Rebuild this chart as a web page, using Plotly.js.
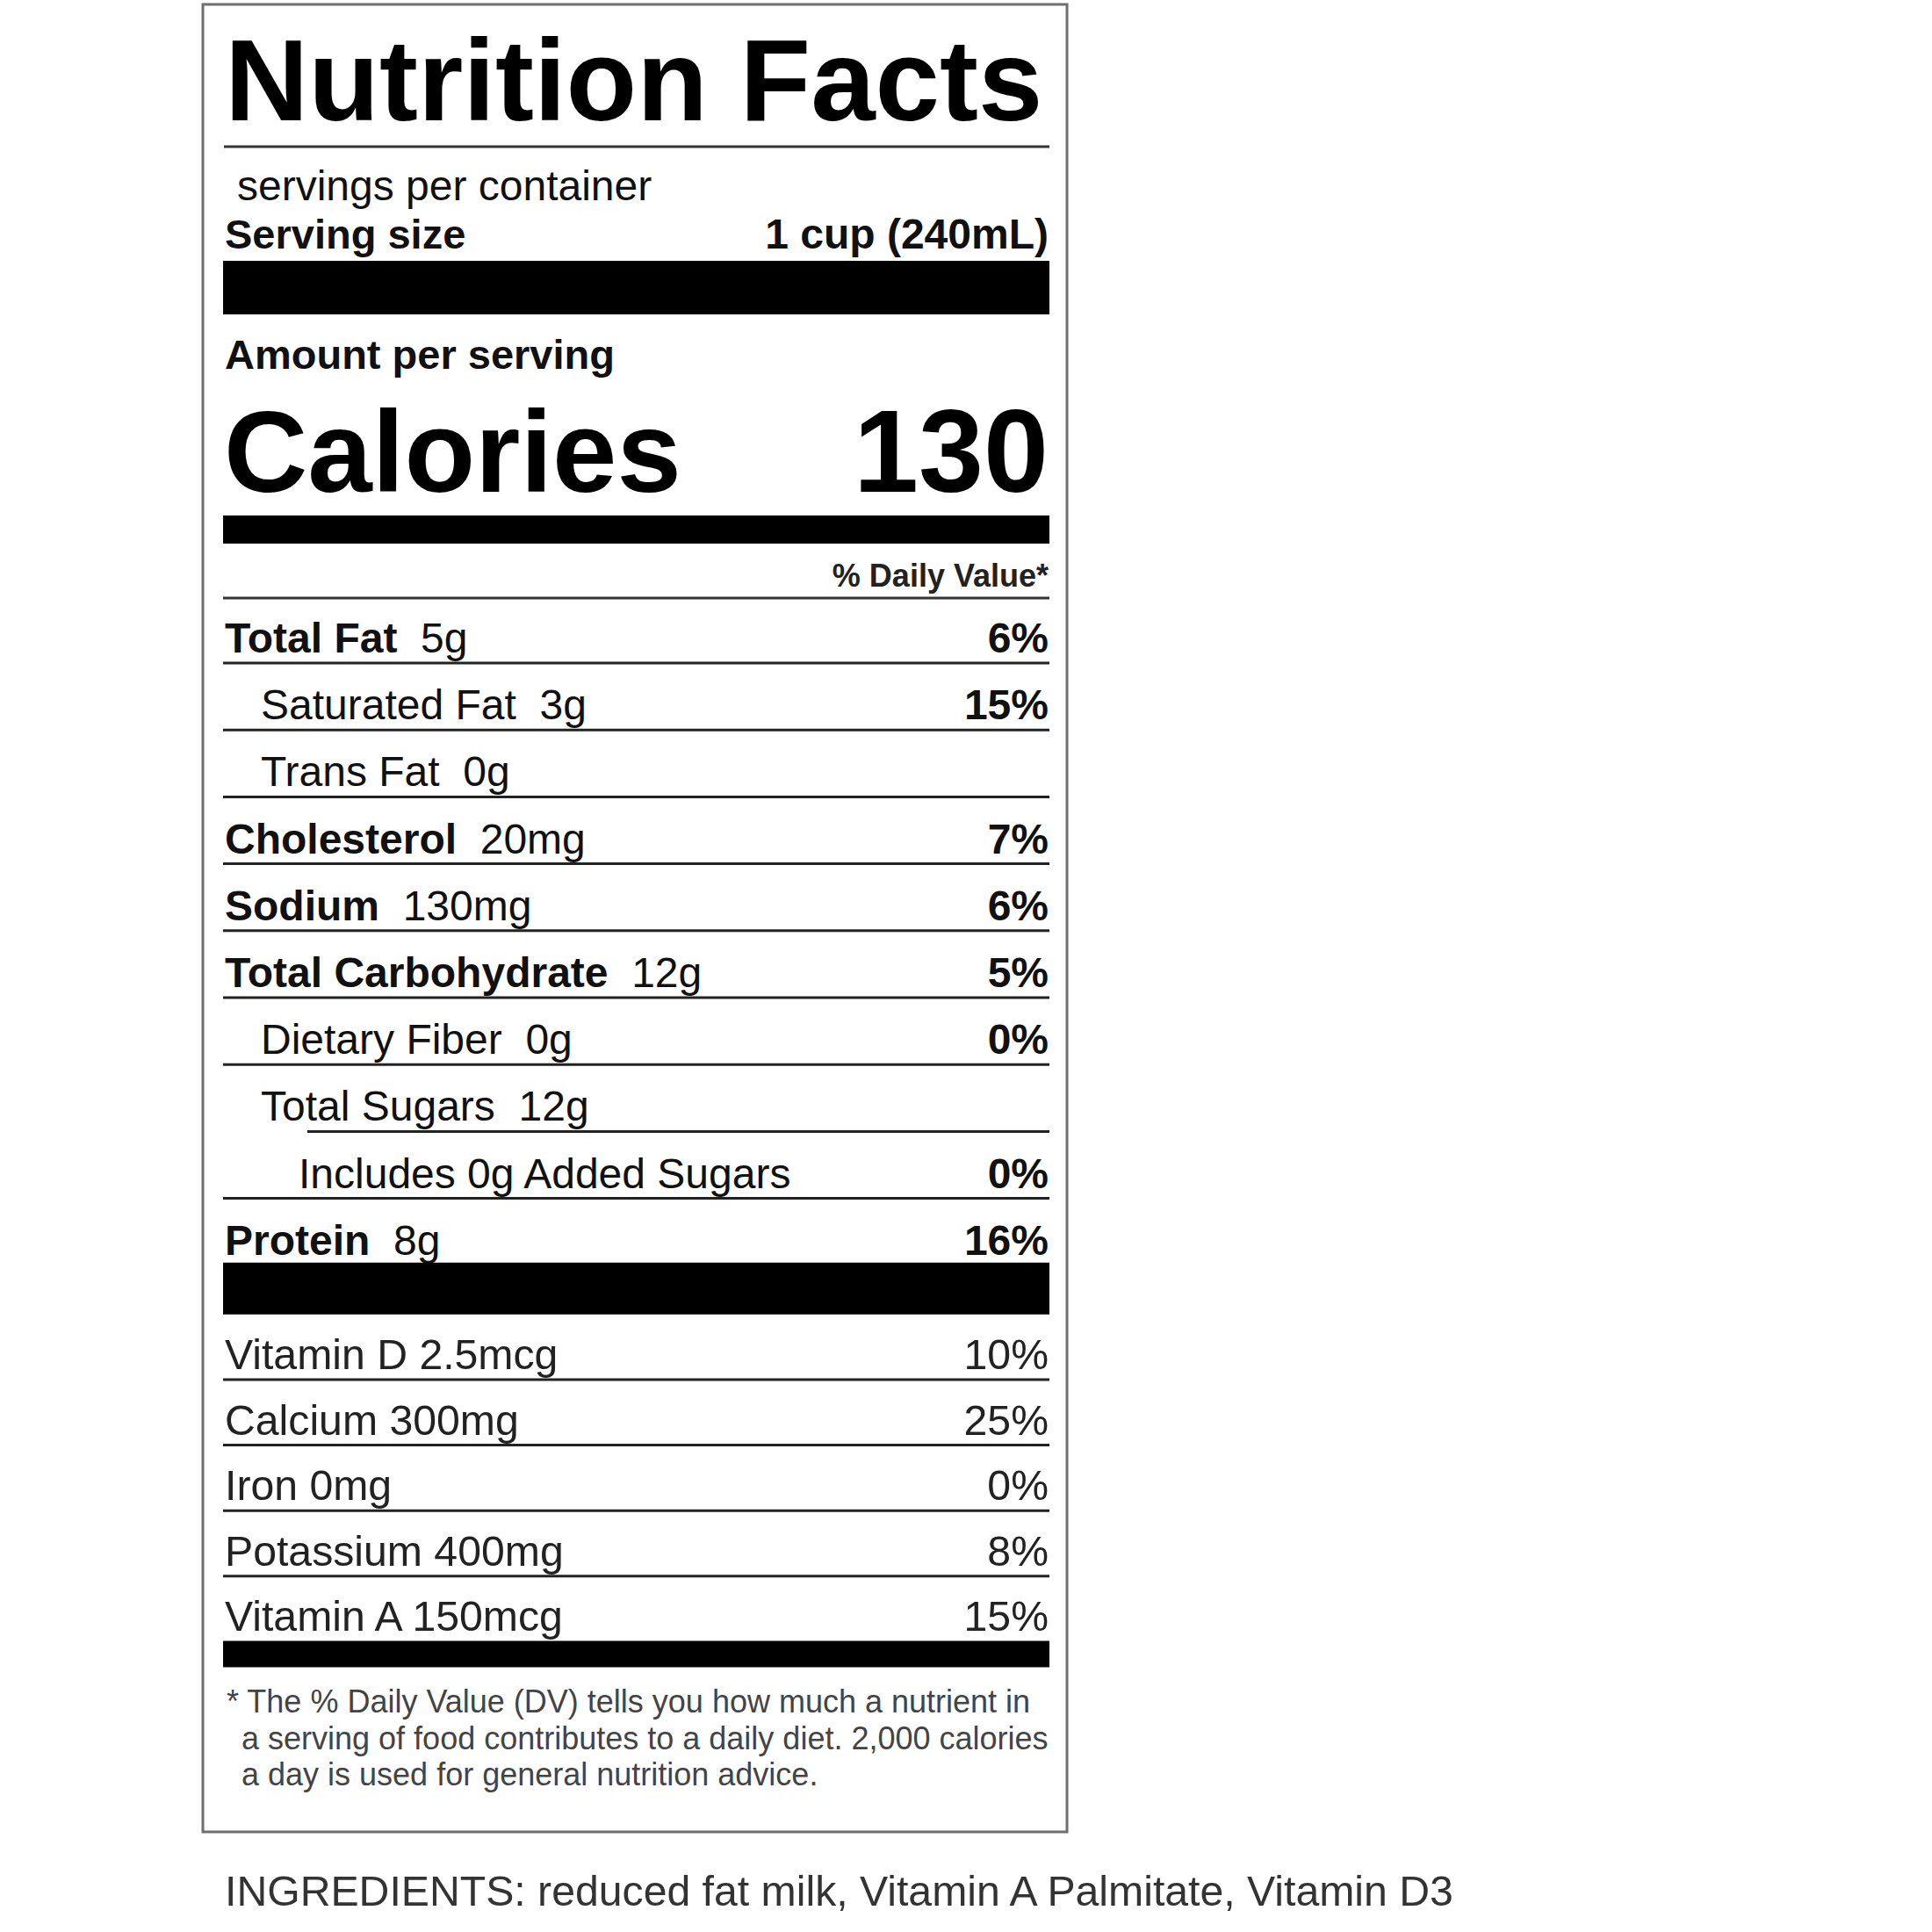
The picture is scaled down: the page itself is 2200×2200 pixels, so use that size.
<!DOCTYPE html>
<html>
<head>
<meta charset="utf-8">
<script src="https://cdn.plot.ly/plotly-3.0.1.min.js"></script>
<style>html,body{margin:0;padding:0;background:#fff;}</style>
</head>
<body>
<div id="chart" style="width:2200px;height:2200px;"></div>
<script>
// ---------- data ----------
const labelTitle = 'Nutrition Facts';
const servingsPerContainer = 'servings per container';
const servingSizeLabel = 'Serving size';
const servingSize = '1 cup (240mL)';
const amountLabel = 'Amount per serving';
const caloriesLabel = 'Calories';
const calories = 130;
const dvHeader = '% Daily Value*';

const nutrients = ['Total Fat', 'Saturated Fat', 'Trans Fat', 'Cholesterol', 'Sodium',
                   'Total Carbohydrate', 'Dietary Fiber', 'Total Sugars', 'Includes 0g Added Sugars', 'Protein'];
const nutrientAmounts = ['5g', '3g', '0g', '20mg', '130mg', '12g', '0g', '12g', '', '8g'];
const nutrientDV = [6, 15, null, 7, 6, 5, 0, null, 0, 16];
const nutrientLevel = [0, 1, 1, 0, 0, 0, 1, 1, 2, 0];

const vitamins = ['Vitamin D', 'Calcium', 'Iron', 'Potassium', 'Vitamin A'];
const vitaminAmounts = ['2.5mcg', '300mg', '0mg', '400mg', '150mcg'];
const vitaminDV = [10, 25, 0, 8, 15];

const footnoteLines = [
  '* The % Daily Value (DV) tells you how much a nutrient in',
  'a serving of food contributes to a daily diet. 2,000 calories',
  'a day is used for general nutrition advice.'
];
const ingredients = 'INGREDIENTS: reduced fat milk, Vitamin A Palmitate, Vitamin D3';

// ---------- layout helpers (positions in pixel-like axis units) ----------
const FONT = 'Liberation Sans, Arial, Helvetica, sans-serif';
const XL = 256, XR = 1194, RULE_L = 254, RULE_R = 1195;
const rowTop = 743, rowStep = 76.2;
const vitTop = 1559, vitStep = 74.6;
const noteTop = 1950, noteStep = 41.5;
const indentX = [0, 41, 84];

const left = {x: [], y: [], text: [], size: [], color: []};
const right = {x: [], y: [], text: [], size: [], color: []};
function put(target, x, baseline, text, size, color) {
  target.x.push(x);
  target.y.push(baseline - 0.25 * size);
  target.text.push(text);
  target.size.push(size);
  target.color.push(color);
}
const NB = '\u00a0';

put(left, 256, 137, '<b>' + labelTitle + '</b>', 132, '#000');
put(left, 270, 228, servingsPerContainer, 48, '#111');
put(left, XL, 283, '<b>' + servingSizeLabel + '</b>', 47, '#111');
put(right, XR, 283, '<b>' + servingSize + '</b>', 48, '#111');
put(left, XL, 420, '<b>' + amountLabel + '</b>', 47, '#111');
put(left, 255, 560, '<b>' + caloriesLabel + '</b>', 132, '#000');
put(right, XR, 560, '<b>' + calories + '</b>', 133, '#000');
put(right, XR, 668, '<b>' + dvHeader + '</b>', 36, '#222');

const shapes = [];
function rule(y, x0, w, color) {
  shapes.push({type: 'line', xref: 'x', yref: 'y', x0: x0, x1: RULE_R, y0: y, y1: y,
               line: {color: color || '#222', width: w || 3}});
}
function bar(y0, y1) {
  shapes.push({type: 'rect', xref: 'x', yref: 'y', x0: RULE_L, x1: RULE_R, y0: y0, y1: y1,
               fillcolor: '#000', line: {width: 0}});
}
// outer box
shapes.push({type: 'rect', xref: 'x', yref: 'y', x0: 231, x1: 1215, y0: 5, y1: 2086,
             fillcolor: 'rgba(0,0,0,0)', line: {color: '#6f6f6f', width: 3}});
rule(167, 255, 3, '#333');
bar(297, 358);
bar(587, 619);
rule(681, RULE_L, 3, '#333');

nutrients.forEach((name, i) => {
  const b = rowTop + i * rowStep;
  const lvl = nutrientLevel[i];
  const amt = nutrientAmounts[i];
  const label = (lvl === 0 ? '<b>' + name + '</b>' : name) + (amt ? NB + NB + amt : '');
  put(left, XL + indentX[lvl], b, label, 48, '#111');
  if (nutrientDV[i] !== null) put(right, XR, b, '<b>' + nutrientDV[i] + '%</b>', 48, '#111');
  if (i < nutrients.length - 1) {
    rule(b + 12, name === 'Total Sugars' ? 350 : RULE_L);
  } else {
    bar(b + 9, b + 68);
  }
});

vitamins.forEach((name, i) => {
  const b = vitTop + i * vitStep;
  put(left, XL, b, name + ' ' + vitaminAmounts[i], 48.2, '#222');
  put(right, XR, b, vitaminDV[i] + '%', 48.2, '#222');
  if (i < vitamins.length - 1) rule(b + 12, RULE_L);
  else bar(b + 11, b + 41);
});

footnoteLines.forEach((line, i) => {
  put(left, i === 0 ? 258 : 275, noteTop + i * noteStep, line, 36, '#444');
});
put(left, XL, 2170, ingredients, 48.2, '#333');

function textTrace(d, pos) {
  return {
    type: 'scatter', mode: 'text', x: d.x, y: d.y, text: d.text,
    textposition: pos, cliponaxis: false, hoverinfo: 'skip', showlegend: false,
    textfont: {family: FONT, size: d.size, color: d.color}
  };
}

const layout = {
  width: 2200, height: 2200,
  margin: {l: 0, r: 0, t: 0, b: 0, pad: 0},
  paper_bgcolor: '#ffffff', plot_bgcolor: '#ffffff',
  xaxis: {range: [0, 2200], visible: false, fixedrange: true},
  yaxis: {range: [2200, 0], visible: false, fixedrange: true},
  shapes: shapes,
  showlegend: false
};

Plotly.newPlot('chart', [textTrace(left, 'middle right'), textTrace(right, 'middle left')], layout,
  {staticPlot: true, displayModeBar: false});
</script>
</body>
</html>
